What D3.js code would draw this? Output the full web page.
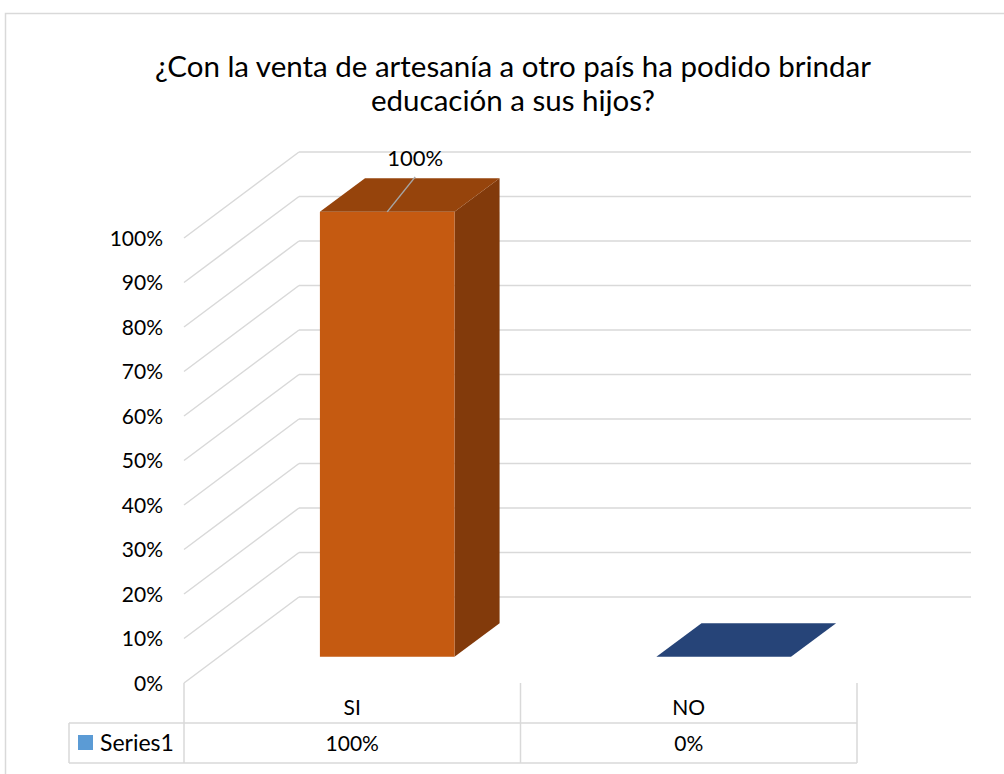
<!DOCTYPE html>
<html>
<head>
<meta charset="utf-8">
<script src="https://cdn.jsdelivr.net/npm/d3@7"></script>
<style>
  body { margin: 0; background: #fff; }
  svg text { font-family: Lato, "Open Sans", sans-serif; fill: #000; }
</style>
</head>
<body>
<div id="chart"></div>
<script>
var titleLines = ["¿Con la venta de artesanía a otro país ha podido brindar", "educación a sus hijos?"];
var categories = ["SI", "NO"];
var values = [1.0, 0.0];
var seriesName = "Series1";
var yTicks = [0, 0.1, 0.2, 0.3, 0.4, 0.5, 0.6, 0.7, 0.8, 0.9, 1.0];
var barColors = [
    { front: "#C55A11", top: "#96440C", side: "#823A0B" },
    { front: "#264478", top: "#264478", side: "#1D3560" }
];

var width = 1004, height = 774;
var svg = d3.select("#chart").append("svg")
    .attr("width", width)
    .attr("height", height);

// chart area border
svg.append("rect")
    .attr("x", 5.5).attr("y", 13.5)
    .attr("width", 1010).attr("height", 800)
    .attr("fill", "white")
    .attr("stroke", "#D9D9D9")
    .attr("stroke-width", 1.5);

// title
svg.append("text")
    .attr("text-anchor", "middle")
    .attr("font-size", "29.5px")
    .selectAll("tspan")
    .data(titleLines)
    .enter().append("tspan")
    .attr("x", 513)
    .attr("y", function (d, i) { return 77 + i * 34; })
    .text(function (d) { return d; });

// front plane scales, plus depth offset for 3d
var plotLeft = 184, plotRight = 857;
var x = d3.scaleBand().domain(categories).range([plotLeft, plotRight]);
var y = d3.scaleLinear().domain([0, 1]).range([683, 238]);
var depthX = 115, depthY = -86;
var zFront = 0.304, zBack = 0.696;
var barFrac = 0.4;

function proj(px, py, z) {
    return [px + z * depthX, py + z * depthY];
}
function pts(arr) {
    return arr.map(function (p) { return p.join(","); }).join(" ");
}

var grid = svg.append("g")
    .attr("stroke", "#D9D9D9")
    .attr("stroke-width", 1.5)
    .attr("fill", "none");

// side wall diagonals
yTicks.forEach(function (t) {
    var a = proj(plotLeft, y(t), 0), b = proj(plotLeft, y(t), 1);
    grid.append("line")
        .attr("x1", a[0]).attr("y1", a[1])
        .attr("x2", b[0]).attr("y2", b[1]);
    // back wall horizontals
    var c = proj(plotRight, y(t), 1);
    grid.append("line")
        .attr("x1", b[0]).attr("y1", b[1])
        .attr("x2", c[0] - 1).attr("y2", c[1]);
});

// y axis labels
svg.append("g")
    .selectAll("text")
    .data(yTicks)
    .enter().append("text")
    .attr("x", 163)
    .attr("y", function (d) { return y(d); })
    .attr("dy", "0.36em")
    .attr("text-anchor", "end")
    .attr("font-size", "21px")
    .text(function (d) { return Math.round(d * 100) + "%"; });

// bars
categories.forEach(function (c, i) {
    var bw = x.bandwidth() * barFrac;
    var x0 = x(c) + (x.bandwidth() - bw) / 2, x1 = x0 + bw;
    var y0 = y(0), y1 = y(values[i]);
    var col = barColors[i];
    var g = svg.append("g");
    if (values[i] > 0) {
        g.append("polygon")
            .attr("points", pts([proj(x1, y1, zFront), proj(x1, y1, zBack), proj(x1, y0, zBack), proj(x1, y0, zFront)]))
            .attr("fill", col.side);
        g.append("polygon")
            .attr("points", pts([proj(x0, y0, zFront), proj(x1, y0, zFront), proj(x1, y1, zFront), proj(x0, y1, zFront)]))
            .attr("fill", col.front);
    }
    g.append("polygon")
        .attr("points", pts([proj(x0, y1, zFront), proj(x0, y1, zBack), proj(x1, y1, zBack), proj(x1, y1, zFront)]))
        .attr("fill", col.top);

    if (values[i] > 0) {
        // data label with leader line
        var a = proj((x0 + x1) / 2, y1, zFront);
        svg.append("line")
            .attr("x1", a[0]).attr("y1", a[1])
            .attr("x2", a[0] + 28).attr("y2", a[1] - 35)
            .attr("stroke", "#A6A6A6")
            .attr("stroke-width", 1.5);
        svg.append("text")
            .attr("x", a[0] + 28)
            .attr("y", a[1] - 46)
            .attr("text-anchor", "middle")
            .attr("font-size", "22px")
            .text(Math.round(values[i] * 100) + "%");
    }
});

// data table
var tbl = svg.append("g")
    .attr("stroke", "#D9D9D9")
    .attr("stroke-width", 1.5);
var colEdges = [plotLeft].concat(categories.map(function (c) { return x(c) + x.bandwidth(); }));
colEdges.forEach(function (cx) {
    tbl.append("line").attr("x1", cx).attr("x2", cx).attr("y1", 683).attr("y2", 763);
});
tbl.append("line").attr("x1", 69).attr("x2", 69).attr("y1", 723).attr("y2", 763);
tbl.append("line").attr("x1", 69).attr("x2", plotRight).attr("y1", 723).attr("y2", 723);
tbl.append("line").attr("x1", 69).attr("x2", plotRight).attr("y1", 763).attr("y2", 763);

svg.append("g")
    .selectAll("text")
    .data(categories)
    .enter().append("text")
    .attr("x", function (d) { return x(d) + x.bandwidth() / 2; })
    .attr("y", 715)
    .attr("text-anchor", "middle")
    .attr("font-size", "21px")
    .text(function (d) { return d; });

svg.append("g")
    .selectAll("text")
    .data(values)
    .enter().append("text")
    .attr("x", function (d, i) { return x(categories[i]) + x.bandwidth() / 2; })
    .attr("y", 751)
    .attr("text-anchor", "middle")
    .attr("font-size", "21px")
    .text(function (d) { return Math.round(d * 100) + "%"; });

svg.append("rect")
    .attr("x", 78).attr("y", 735)
    .attr("width", 15).attr("height", 15)
    .attr("fill", "#5B9BD5");
svg.append("text")
    .attr("x", 100).attr("y", 751)
    .attr("font-size", "23px")
    .text(seriesName);
</script>
</body>
</html>
